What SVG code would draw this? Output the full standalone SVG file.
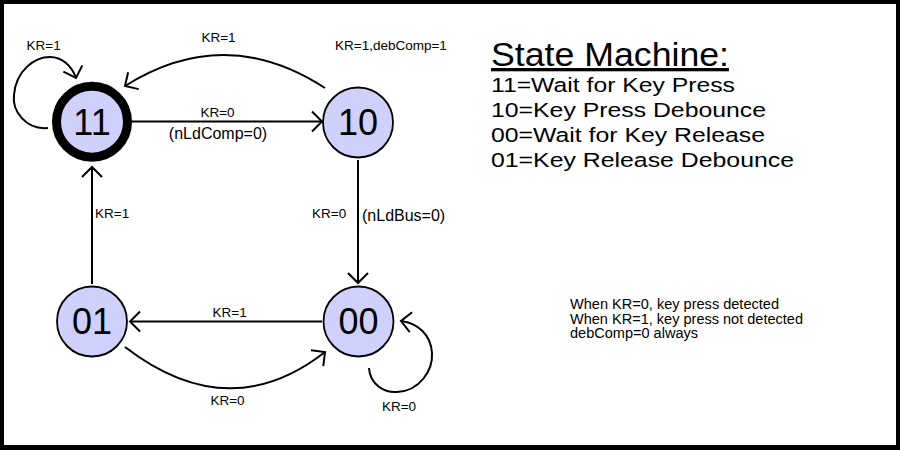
<svg xmlns="http://www.w3.org/2000/svg" width="900" height="450" viewBox="0 0 900 450">
  <style>
    .node circle { fill: #d0d0fc; stroke: #000; stroke-width: 1.8; }
    .node text { font-family: "Liberation Sans", Arial, sans-serif; font-size: 36px; text-anchor: middle; fill: #000; }
    .edge { fill: none; stroke: #000; stroke-width: 2; marker-end: url(#arrow); }
    .lbl { font-family: "Liberation Sans", Arial, sans-serif; font-size: 13.5px; fill: #000; }
    .mid { text-anchor: middle; }
    .big { font-size: 16px; }
    .legend { font-family: "Liberation Sans", Arial, sans-serif; fill: #000; }
  </style>
  <defs>
    <marker id="arrow" markerUnits="userSpaceOnUse" markerWidth="14" markerHeight="24" refX="10" refY="10" orient="auto" overflow="visible">
      <path d="M0,0 L10,10 L0,20" fill="none" stroke="#000" stroke-width="2"/>
    </marker>
  </defs>
  <rect x="0" y="0" width="900" height="450" fill="#000"/>
  <rect x="4" y="4" width="892" height="441" fill="#fff"/>

  <g id="connectors">
    <path class="edge" d="M 131,121.5 L 322,121.5"/>
    <path class="edge" d="M 325,88 Q 225,23 125,86"/>
    <path class="edge" d="M 48,128 C 25,130 12,110 14,95 C 16,70 35,57 50,57 C 62,57 72,66 76,78"/>
    <path class="edge" d="M 358,160 L 358,283"/>
    <path class="edge" d="M 92,284 L 92,167"/>
    <path class="edge" d="M 322,321.5 L 130,321.5"/>
    <path class="edge" d="M 125,347 Q 229,427 325,352"/>
    <path class="edge" d="M 369,368 C 370,385 385,393 397,392 C 420,391 433,370 432,353 C 431,335 418,323 401,321"/>
  </g>

  <g id="labels">
    <text class="lbl mid" x="217.5" y="117">KR=0</text>
    <text class="lbl mid big" x="218" y="139">(nLdComp=0)</text>
    <text class="lbl mid" x="218.5" y="41.5">KR=1</text>
    <text class="lbl mid" x="43.7" y="50">KR=1</text>
    <text class="lbl" x="335" y="49.5">KR=1,debComp=1</text>
    <text class="lbl" x="95" y="217.5">KR=1</text>
    <text class="lbl" x="312" y="217.5">KR=0</text>
    <text class="lbl big" x="362" y="221">(nLdBus=0)</text>
    <text class="lbl mid" x="229.7" y="316.7">KR=1</text>
    <text class="lbl mid" x="227.5" y="405">KR=0</text>
    <text class="lbl mid" x="399" y="410.5">KR=0</text>
  </g>

  <g id="node-11" class="node">
    <circle cx="92" cy="121.7" r="35.5" style="stroke-width:9"/>
    <text x="92" y="134.5">11</text>
  </g>
  <g id="node-10" class="node">
    <circle cx="358" cy="122.5" r="35"/>
    <text x="358" y="135.3">10</text>
  </g>
  <g id="node-01" class="node">
    <circle cx="92" cy="321.5" r="35"/>
    <text x="92" y="334.3">01</text>
  </g>
  <g id="node-00" class="node">
    <circle cx="358.5" cy="321.5" r="35"/>
    <text x="358.5" y="334.3">00</text>
  </g>

  <g id="legend" class="legend">
    <text x="491" y="66" font-size="33" textLength="238" lengthAdjust="spacingAndGlyphs" text-decoration="underline">State Machine:</text>
    <text x="491" y="91.5" font-size="20.5" textLength="244" lengthAdjust="spacingAndGlyphs">11=Wait for Key Press</text>
    <text x="491" y="116.5" font-size="20.5" textLength="275" lengthAdjust="spacingAndGlyphs">10=Key Press Debounce</text>
    <text x="491" y="141.5" font-size="20.5" textLength="274" lengthAdjust="spacingAndGlyphs">00=Wait for Key Release</text>
    <text x="491" y="166.5" font-size="20.5" textLength="303" lengthAdjust="spacingAndGlyphs">01=Key Release Debounce</text>
  </g>

  <g id="notes" class="legend">
    <text x="570" y="309" font-size="14" textLength="209" lengthAdjust="spacingAndGlyphs">When KR=0, key press detected</text>
    <text x="570" y="323.5" font-size="14" textLength="233" lengthAdjust="spacingAndGlyphs">When KR=1, key press not detected</text>
    <text x="570" y="338" font-size="14" textLength="128" lengthAdjust="spacingAndGlyphs">debComp=0 always</text>
  </g>
</svg>
